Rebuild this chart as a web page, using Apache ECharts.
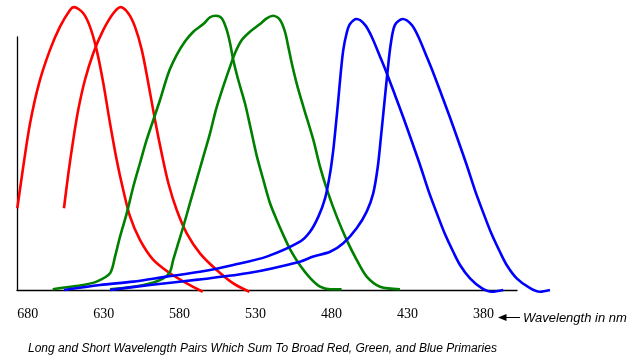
<!DOCTYPE html>
<html>
<head>
<meta charset="utf-8">
<script src="https://cdn.jsdelivr.net/npm/echarts@6/dist/echarts.min.js"></script>
<style>
html,body{margin:0;padding:0;background:#fff;}
#chart{width:636px;height:360px;}
</style>
</head>
<body>
<div id="chart"></div>
<script>
// Wavelength (nm) tick labels
const tickLabels = [680, 630, 580, 530, 480, 430, 380];

// Curves: [wavelength nm, relative response]
const red1 = [[686.8,32.3],[682.9,48.7],[678.4,65.9],[672.5,81.7],[665.3,94.9],[658.7,104.1],[652.1,110.7],[649.5,111.8],[643.4,109.4],[639.0,104.1],[634.6,94.9],[630.2,81.7],[625.8,65.9],[621.4,51.4],[617.1,39.5],[612.6,29.0],[606.1,19.8],[597.3,11.9],[586.3,6.6],[575.3,2.6],[564.8,-0.7]];
const red2 = [[656.1,32.3],[653.2,46.1],[650.0,59.3],[646.7,71.2],[642.3,83.0],[636.8,93.6],[630.2,102.8],[623.6,109.4],[618.8,111.8],[613.8,109.4],[609.4,104.1],[604.9,94.9],[600.6,81.7],[596.2,67.2],[591.8,54.0],[587.4,42.2],[581.9,31.6],[575.3,22.4],[566.6,14.5],[555.6,7.9],[544.7,2.6],[534.1,-0.7]];
const green1 = [[663.5,0.3],[654.3,1.1],[643.4,2.0],[634.6,3.3],[625.8,6.6],[622.5,13.2],[619.2,21.1],[614.8,30.3],[610.5,40.8],[606.1,50.1],[601.7,59.3],[597.3,67.2],[592.9,75.1],[587.4,85.7],[581.9,92.9],[576.5,98.2],[571.0,102.1],[564.4,105.1],[560.0,107.8],[556.1,108.4],[552.3,107.4],[549.0,102.8],[546.8,97.5],[544.7,90.9],[541.4,83.0],[537.0,73.8],[533.0,63.2],[529.1,52.7],[524.9,43.5],[520.5,34.3],[516.1,27.7],[511.8,21.8],[507.4,16.2],[500.8,9.8],[494.2,4.8],[487.6,1.3],[481.0,0.3],[473.4,0.3]];
const green2 = [[625.8,0.3],[610.5,1.3],[599.5,2.6],[590.7,4.6],[586.3,7.2],[584.2,11.9],[580.9,18.5],[577.6,25.0],[573.2,34.3],[568.8,43.5],[564.4,52.7],[560.0,61.9],[556.1,71.2],[551.3,80.4],[546.8,88.3],[543.6,93.6],[539.1,98.8],[533.7,102.1],[527.1,105.1],[522.7,107.4],[518.4,108.4],[513.9,106.7],[510.7,102.1],[508.5,96.2],[506.2,89.6],[503.0,81.7],[498.6,72.5],[492.0,59.3],[487.6,48.7],[482.2,38.2],[476.6,29.0],[470.1,19.8],[463.5,11.9],[456.9,5.3],[448.1,1.3],[435.0,0.3]];
const blue1 = [[656.1,0],[632.4,2.0],[610.5,3.3],[588.5,5.3],[566.6,7.2],[544.7,9.9],[522.7,13.2],[500.8,19.1],[494.2,23.0],[488.7,29.0],[484.3,36.2],[481.0,46.1],[478.9,55.3],[477.3,64.6],[475.6,75.1],[474.0,85.7],[472.3,94.9],[470.1,101.5],[467.9,105.1],[463.5,107.1],[458.0,104.8],[453.6,100.1],[448.1,92.2],[443.7,85.7],[438.3,77.1],[432.8,68.2],[427.3,58.9],[421.8,49.4],[416.4,39.5],[410.8,30.4],[405.4,22.1],[399.9,15.0],[395.5,9.9],[388.9,4.6],[381.2,0.7],[374.6,-0.7],[367.0,0]];
const blue2 = [[625.8,0],[599.5,2.0],[566.6,4.2],[533.7,6.8],[500.8,11.2],[492.0,13.2],[481.0,15.1],[472.3,18.5],[463.5,24.4],[456.9,31.0],[452.6,38.2],[449.6,48.7],[447.6,60.0],[445.6,72.0],[443.3,85.7],[441.0,97.5],[438.3,104.8],[433.2,107.1],[427.3,104.8],[422.9,100.1],[417.4,92.2],[413.0,85.7],[407.6,77.1],[402.1,68.2],[396.6,58.9],[391.1,49.4],[385.7,39.5],[380.1,30.4],[374.7,22.1],[369.2,15.0],[364.8,9.9],[358.2,4.6],[349.4,0.7],[342.9,-0.7],[336.3,0]];

const captionText = 'Long and Short Wavelength Pairs Which Sum To Broad Red, Green, and Blue Primaries';
const axisNameText = 'Wavelength in nm';

const chart = echarts.init(document.getElementById('chart'), null, {renderer: 'canvas'});

function curve(data, color) {
  return {
    type: 'line',
    xAxisIndex: 0,
    yAxisIndex: 0,
    data: data,
    showSymbol: false,
    symbol: 'none',
    smooth: 0.3,
    clip: false,
    silent: true,
    lineStyle: {color: color, width: 2.6},
    z: 2
  };
}

chart.setOption({
  animation: false,
  backgroundColor: '#ffffff',
  title: {
    text: captionText,
    left: 28,
    top: 343,
    padding: 0,
    textStyle: {fontFamily: 'Liberation Sans', fontStyle: 'italic', fontWeight: 'normal', fontSize: 12, color: '#000'}
  },
  grid: [
    // plotting area for the curves (same scale, wider so the right tails are not cut)
    {left: 17, right: 69, top: 37, bottom: 70, containLabel: false},
    // visible axes
    {left: 17, right: 119, top: 37, bottom: 70, containLabel: false}
  ],
  xAxis: [
    {
      gridIndex: 0, type: 'value', inverse: true, min: 325.1, max: 687,
      axisLine: {show: false}, axisTick: {show: false}, axisLabel: {show: false}, splitLine: {show: false}
    },
    {
      gridIndex: 1, type: 'value', inverse: true, min: 358, max: 687,
      axisLine: {show: true, onZero: false, lineStyle: {color: '#000', width: 1.3}},
      axisTick: {show: false},
      splitLine: {show: false},
      axisLabel: {
        show: true,
        customValues: tickLabels,
        margin: 17,
        fontFamily: 'Liberation Serif',
        fontSize: 14,
        color: '#000'
      }
    }
  ],
  yAxis: [
    {
      gridIndex: 0, type: 'value', min: 0, max: 100,
      axisLine: {show: false}, axisTick: {show: false}, axisLabel: {show: false}, splitLine: {show: false}
    },
    {
      gridIndex: 1, type: 'value', min: 0, max: 100,
      axisLine: {show: true, lineStyle: {color: '#000', width: 1.3}},
      axisTick: {show: false}, axisLabel: {show: false}, splitLine: {show: false}
    }
  ],
  graphic: [
    {type: 'polygon', shape: {points: [[498, 317.5], [506.5, 314], [506.5, 321]]}, style: {fill: '#000'}},
    {type: 'line', shape: {x1: 505, y1: 317.5, x2: 520, y2: 317.5}, style: {stroke: '#000', lineWidth: 1}},
    {type: 'text', x: 523, y: 318, style: {text: axisNameText, fontFamily: 'Liberation Sans', fontStyle: 'italic', fontSize: 13, fill: '#000', verticalAlign: 'middle'}}
  ],
  series: [
    curve(red1, '#ff0000'),
    curve(red2, '#ff0000'),
    curve(green1, '#008000'),
    curve(green2, '#008000'),
    curve(blue1, '#0000ff'),
    curve(blue2, '#0000ff')
  ]
});
</script>
</body>
</html>
